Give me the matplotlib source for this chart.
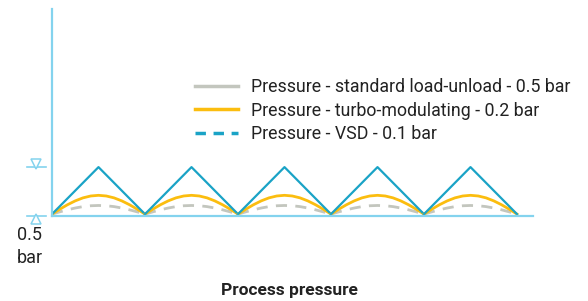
import matplotlib
matplotlib.use("Agg")
import matplotlib.pyplot as plt
from matplotlib.lines import Line2D

plt.rcParams['font.family'] = ['Roboto', 'DejaVu Sans']

# data: 5 cycles, pressure swing (bar) above the minimum
n_cycles = 5
# load-unload sawtooth: start, peak, end of each cycle
tri_x = [0.0, 0.5, 1.0]
tri_y = [0.0, 0.5, 0.0]
# turbo-modulating arc, sampled over one cycle
arc_x = [0, 1/12, 2/12, 3/12, 4/12, 5/12, 6/12, 7/12, 8/12, 9/12, 10/12, 11/12, 1]
turbo_y = [0.0, 0.052, 0.100, 0.141, 0.173, 0.193, 0.200, 0.193, 0.173, 0.141, 0.100, 0.052, 0.0]
vsd_y = [0.0, 0.024, 0.046, 0.065, 0.080, 0.089, 0.092, 0.089, 0.080, 0.065, 0.046, 0.024, 0.0]

labels = ["Pressure - standard load-unload - 0.5 bar",
          "Pressure - turbo-modulating - 0.2 bar",
          "Pressure - VSD - 0.1 bar"]

c_axis = "#84d3ee"
c_blue = "#1aa3c6"
c_yellow = "#fbbd0f"
c_grey = "#c3c6be"
c_text = "#222222"

fig = plt.figure(figsize=(5.88, 3.01), dpi=100)
ax = fig.add_axes([52/588, 85/301, 481/588, 207/301])

for k in range(n_cycles):
    ax.plot([k + x for x in arc_x], vsd_y, color=c_grey, lw=2, dashes=(4, 3))
    ax.plot([k + x for x in arc_x], turbo_y, color=c_yellow, lw=2)
    ax.plot([k + x for x in tri_x], tri_y, color=c_blue, lw=1.6)

ax.set_xlim(0, 481/93)
ax.set_ylim(-0.02, 207/94 - 0.02)
for s in ["top", "right"]:
    ax.spines[s].set_visible(False)
for s in ["left", "bottom"]:
    ax.spines[s].set_color(c_axis)
    ax.spines[s].set_linewidth(1.6)
ax.set_xticks([])
ax.set_yticks([])

# level markers left of the axis
trans = ax.get_yaxis_transform()
for lvl, tri_off, mk in [(0.5, 0.035, "v"), (-0.02, -0.035, "^")]:
    ax.plot([-0.052, -0.012], [lvl, lvl], color=c_axis, lw=1.2, transform=trans, clip_on=False)
    ax.plot([-0.034], [lvl + tri_off], marker=mk, ms=7, mfc="white", mec=c_axis, mew=1.1,
            transform=trans, clip_on=False, ls="none")

fig.text(30/588, 1 - 235/301, "0.5", ha="center", va="center", fontsize=13, color=c_text)
fig.text(30/588, 1 - 258/301, "bar", ha="center", va="center", fontsize=13, color=c_text)
fig.text(289/588, 1 - 291/301, "Process pressure", ha="center", va="center", fontsize=12.5,
         fontweight="bold", color=c_text)

handles = [Line2D([], [], color=c_grey, lw=2.5),
           Line2D([], [], color=c_yellow, lw=2.5),
           Line2D([], [], color=c_blue, lw=2.5, dashes=(3, 2.2))]
fig.legend(handles, labels, loc="upper left", bbox_to_anchor=(195/588, 1 - 78/301),
           frameon=False, fontsize=12.8, handlelength=2.4, handletextpad=0.75,
           labelspacing=0.32, borderpad=0, borderaxespad=0, labelcolor=c_text)

fig.savefig("out.png", dpi=100)
